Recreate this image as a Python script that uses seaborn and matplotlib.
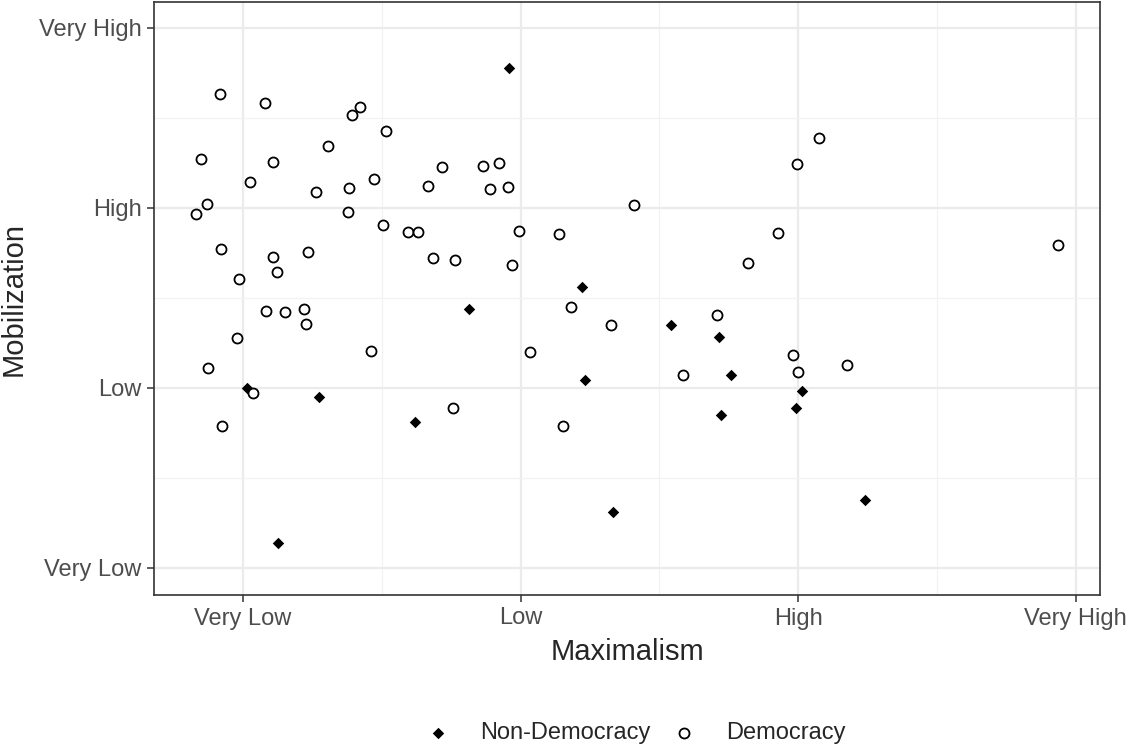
import numpy as np
import pandas as pd
import matplotlib
matplotlib.use("Agg")
import matplotlib.pyplot as plt
import seaborn as sns

# values (1 = Very Low ... 4 = Very High)
dem_x = [0.917, 1.079, 1.420, 1.393, 1.515, 1.307, 0.850, 1.107, 1.718, 1.024,
         1.471, 1.666, 1.262, 1.382, 0.871, 0.830, 1.377, 1.504, 1.595, 1.629,
         0.921, 1.109, 1.233, 1.683, 1.763, 0.986, 1.121, 1.083, 1.152, 1.220,
         1.228, 0.979, 1.459, 0.874, 1.037, 0.924, 1.755, 1.863, 1.923, 1.889,
         1.955, 2.408, 1.994, 2.137, 1.968, 2.820, 2.928, 2.183, 2.327, 2.035,
         2.586, 2.706, 2.152, 3.075, 2.995, 3.935, 2.980, 2.999, 3.176]
dem_y = [3.635, 3.582, 3.561, 3.515, 3.426, 3.344, 3.272, 3.256, 3.229, 3.146,
         3.163, 3.121, 3.091, 3.111, 3.022, 2.967, 2.979, 2.906, 2.865, 2.865,
         2.772, 2.728, 2.757, 2.722, 2.709, 2.604, 2.644, 2.428, 2.421, 2.441,
         2.357, 2.279, 2.204, 2.111, 1.971, 1.789, 1.891, 3.232, 3.252, 3.104,
         3.117, 3.018, 2.874, 2.854, 2.683, 2.693, 2.859, 2.452, 2.350, 2.198,
         2.072, 2.407, 1.791, 3.391, 3.243, 2.793, 2.182, 2.091, 2.128]

nondem_x = [1.958, 1.812, 1.015, 1.273, 1.621, 1.127, 2.220, 2.541, 2.714, 2.233,
            2.757, 2.721, 2.332, 3.015, 2.992, 3.241]
nondem_y = [3.776, 2.437, 1.998, 1.952, 1.809, 1.139, 2.559, 2.350, 2.282, 2.043,
            2.074, 1.850, 1.311, 1.983, 1.887, 1.376]

tick_vals = [1, 2, 3, 4]
tick_labels = ["Very Low", "Low", "High", "Very High"]
y_tick_labels = ["Very Low", "Low", "High", "Very High"]

dem = pd.DataFrame({"Maximalism": dem_x, "Mobilization": dem_y})
nondem = pd.DataFrame({"Maximalism": nondem_x, "Mobilization": nondem_y})

sns.set_style("white")
plt.rcParams["font.family"] = ["Liberation Sans", "DejaVu Sans"]

fig = plt.figure(figsize=(11.29, 7.47), dpi=100)
ax = fig.add_axes([154 / 1129, 1 - 595 / 747, 946 / 1129, 593 / 747])

sns.scatterplot(data=nondem, x="Maximalism", y="Mobilization", ax=ax,
                marker="D", s=34, color="black", edgecolor="black",
                linewidth=0, label="Non-Democracy", zorder=3)
sns.scatterplot(data=dem, x="Maximalism", y="Mobilization", ax=ax,
                marker="o", s=52, facecolor="white", edgecolor="black",
                linewidth=1.3, label="Democracy", zorder=3)

ax.set_xlim(0.679, 4.087)
ax.set_ylim(0.85, 4.144)
ax.set_xticks(tick_vals)
ax.set_xticklabels(tick_labels)
ax.set_yticks(tick_vals)
ax.set_yticklabels(y_tick_labels)
ax.set_xticks([1.5, 2.5, 3.5], minor=True)
ax.set_yticks([1.5, 2.5, 3.5], minor=True)

ax.grid(which="major", color="#EBEBEB", linewidth=1.6)
ax.grid(which="minor", color="#F2F2F2", linewidth=0.9)
ax.set_axisbelow(True)
for sp in ax.spines.values():
    sp.set_color("#333333")
    sp.set_linewidth(1.2)

ax.tick_params(axis="both", which="major", length=5, width=1.1, color="#333333",
               labelsize=17, labelcolor="#4D4D4D", pad=4)
ax.tick_params(axis="both", which="minor", length=0)
ax.tick_params(bottom=True, left=True)

ax.set_xlabel("Maximalism", fontsize=21, labelpad=6)
ax.set_ylabel("Mobilization", fontsize=21, labelpad=8)

ax.get_legend().remove()
handles, labels = ax.get_legend_handles_labels()
fig.legend(handles, labels, loc="center", bbox_to_anchor=(630 / 1129, 1 - 733 / 747),
           ncol=2, frameon=False, fontsize=17, handletextpad=0.75,
           columnspacing=0.45, markerscale=1.0)

fig.savefig("out.png", dpi=100, facecolor="white")
